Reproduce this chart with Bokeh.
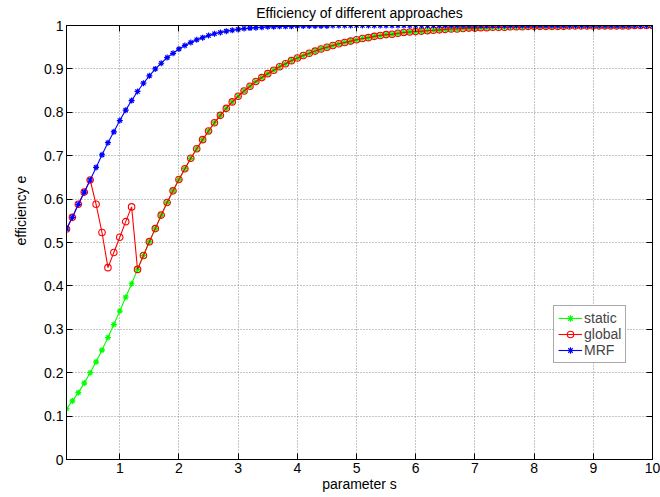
import numpy as np
from bokeh.plotting import figure
from bokeh.models import Range1d, LinearAxis, FixedTicker, Legend, LegendItem, Title
from bokeh.embed import file_html
from bokeh.resources import INLINE

# ---------------- data ----------------
s = np.round(np.arange(1, 101) * 0.1, 1).tolist()

static = [
    0.117, 0.135, 0.154, 0.176, 0.200, 0.225, 0.252, 0.281, 0.311, 0.342,
    0.374, 0.405, 0.438, 0.470, 0.502, 0.532, 0.563, 0.592, 0.619, 0.645,
    0.670, 0.694, 0.716, 0.737, 0.757, 0.776, 0.793, 0.809, 0.824, 0.837,
    0.849, 0.860, 0.871, 0.880, 0.889, 0.897, 0.905, 0.912, 0.919, 0.925,
    0.931, 0.936, 0.941, 0.946, 0.950, 0.954, 0.958, 0.961, 0.964, 0.967,
    0.970, 0.972, 0.975, 0.977, 0.979, 0.980, 0.982, 0.984, 0.985, 0.986,
    0.987, 0.988, 0.989, 0.990, 0.991, 0.992, 0.992, 0.993, 0.994, 0.994,
    0.995, 0.995, 0.996, 0.996, 0.996, 0.997, 0.997, 0.997, 0.998, 0.998,
    0.998, 0.998, 0.998, 0.998, 0.998, 0.999, 0.999, 0.999, 0.999, 0.999,
    0.999, 0.999, 0.999, 0.999, 0.999, 0.999, 1.000, 1.000, 1.000, 1.000,
]

mrf = [
    0.531, 0.558, 0.588, 0.616, 0.644, 0.673, 0.702, 0.730, 0.755, 0.781,
    0.805, 0.827, 0.848, 0.867, 0.884, 0.900, 0.913, 0.926, 0.936, 0.946,
    0.954, 0.961, 0.967, 0.972, 0.977, 0.981, 0.984, 0.987, 0.989, 0.991,
    0.993, 0.994, 0.995, 0.996, 0.997, 0.997, 0.998, 0.998, 0.998, 0.999,
    0.999, 0.999, 0.999, 0.999, 0.999, 1.000, 1.000, 1.000, 1.000, 1.000,
    1.000, 1.000, 1.000, 1.000, 1.000, 1.000, 1.000, 1.000, 1.000, 1.000,
    1.000, 1.000, 1.000, 1.000, 1.000, 1.000, 1.000, 1.000, 1.000, 1.000,
    1.000, 1.000, 1.000, 1.000, 1.000, 1.000, 1.000, 1.000, 1.000, 1.000,
    1.000, 1.000, 1.000, 1.000, 1.000, 1.000, 1.000, 1.000, 1.000, 1.000,
    1.000, 1.000, 1.000, 1.000, 1.000, 1.000, 1.000, 1.000, 1.000, 1.000,
]

global_dip = [0.588, 0.523, 0.442, 0.477, 0.512, 0.548, 0.582]  # s = 0.6 .. 1.2
global_vals = mrf[:5] + global_dip + static[12:]

x_ticks = [1, 2, 3, 4, 5, 6, 7, 8, 9, 10]
y_ticks = [0, 0.1, 0.2, 0.3, 0.4, 0.5, 0.6, 0.7, 0.8, 0.9, 1]

title_text = "Efficiency of different approaches"
x_label = "parameter s"
y_label = "efficiency e"
names = ["static", "global", "MRF"]

FONT = "Liberation Sans"
FS = "14px"

# ---------------- figure ----------------
p = figure(width=660, height=497, x_range=Range1d(0.1, 10), y_range=Range1d(0, 1),
           output_backend="svg", toolbar_location=None, title=None,
           min_border_left=66, min_border_right=8, min_border_top=25, min_border_bottom=38)
p.background_fill_color = "white"
p.border_fill_color = "white"
p.outline_line_color = "black"

for ax in p.xaxis:
    ax.ticker = FixedTicker(ticks=x_ticks)
for ax in p.yaxis:
    ax.ticker = FixedTicker(ticks=y_ticks)
    ax.major_label_overrides = {0: "0", 1: "1"}

for ax in list(p.xaxis) + list(p.yaxis):
    ax.major_tick_in = 6
    ax.major_tick_out = 0
    ax.minor_tick_line_color = None
    ax.axis_line_color = "black"
    ax.major_tick_line_color = "black"
    ax.major_label_text_font = FONT
    ax.major_label_text_font_size = FS
    ax.major_label_text_color = "black"
p.xaxis.major_label_standoff = 3
p.yaxis.major_label_standoff = 3

p.xaxis.axis_label = x_label
p.xaxis.axis_label_standoff = 0
p.xaxis.axis_label_text_font = FONT
p.xaxis.axis_label_text_font_size = FS
p.xaxis.axis_label_text_font_style = "normal"
p.xaxis.axis_label_text_color = "black"

top = LinearAxis(ticker=FixedTicker(ticks=x_ticks), major_label_text_font_size="0px",
                 major_label_text_color=None,
                 major_tick_in=6, major_tick_out=0, minor_tick_line_color=None,
                 major_label_standoff=0, axis_line_color="black")
right = LinearAxis(ticker=FixedTicker(ticks=y_ticks), major_label_text_font_size="0px",
                   major_label_text_color=None,
                   major_tick_in=6, major_tick_out=0, minor_tick_line_color=None,
                   major_label_standoff=0, axis_line_color="black")
p.add_layout(top, "above")
p.add_layout(right, "right")

p.xgrid.ticker = FixedTicker(ticks=x_ticks)
p.ygrid.ticker = FixedTicker(ticks=y_ticks)
for g in [p.xgrid, p.ygrid]:
    g.grid_line_color = "#8c8c8c"
    g.grid_line_dash = "1 2"
    g.grid_line_width = 1

# ---------------- series ----------------
g_line = p.line(s, static, line_color="#00ff00", line_width=1.1)
g_sc = p.scatter(s, static, marker="asterisk", size=6, line_color="#00ff00", line_width=1.2)

r_line = p.line(s, global_vals, line_color="#ff0000", line_width=1.1)
r_sc = p.scatter(s, global_vals, marker="circle", size=6.5, line_color="#ff0000",
                 fill_color=None, line_width=1.1)

b_line = p.line(s, mrf, line_color="#0000ff", line_width=1.1)
b_sc = p.scatter(s, mrf, marker="asterisk", size=6, line_color="#0000ff", line_width=1.2)

legend = Legend(items=[LegendItem(label=names[0], renderers=[g_line, g_sc]),
                       LegendItem(label=names[1], renderers=[r_line, r_sc]),
                       LegendItem(label=names[2], renderers=[b_line, b_sc])],
                location=(487, 96), padding=4, spacing=0, margin=0,
                label_height=16, glyph_height=16, glyph_width=24, label_standoff=2,
                label_text_font=FONT, label_text_font_size=FS,
                border_line_color="#555555", border_line_width=1,
                background_fill_color="white", background_fill_alpha=1)
p.add_layout(legend)

# ---------------- texts ----------------
p.add_layout(Title(text=title_text, align="center", vertical_align="top", standoff=6,
                   text_font=FONT, text_font_size=FS, text_font_style="normal",
                   text_color="black"), "above")
p.add_layout(Title(text=y_label, align="left", vertical_align="top", offset=214, standoff=22,
                   text_font=FONT, text_font_size=FS, text_font_style="normal",
                   text_color="black"), "left")

open("out.html", "w").write(file_html(p, INLINE))
